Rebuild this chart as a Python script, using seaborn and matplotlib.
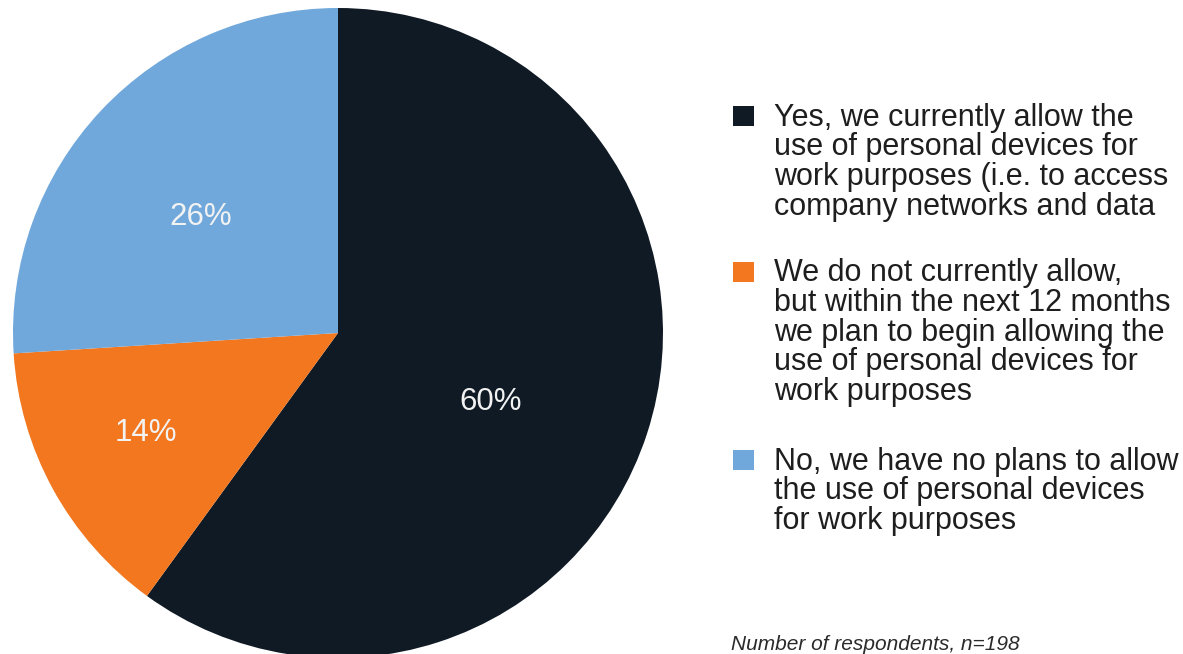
import numpy as np
import matplotlib
matplotlib.use("Agg")
import matplotlib.pyplot as plt
from matplotlib.patches import Rectangle
import seaborn as sns

# Survey answers on personal-device (BYOD) policy
answers = [
    "Yes, we currently allow the\nuse of personal devices for\nwork purposes (i.e. to access\ncompany networks and data",
    "We do not currently allow,\nbut within the next 12 months\nwe plan to begin allowing the\nuse of personal devices for\nwork purposes",
    "No, we have no plans to allow\nthe use of personal devices\nfor work purposes",
]
shares = [60, 14, 26]
colors = ["#101a25", "#f2771f", "#70a8db"]
footnote = "Number of respondents, n=198"

sns.set_theme(style="white")
plt.rcParams["font.family"] = ["Liberation Sans", "DejaVu Sans"]

W, H = 1183, 654
fig = plt.figure(figsize=(W / 100, H / 100), dpi=100)
fig.patch.set_facecolor("white")


def fx(x):
    return x / W


def fy(y):
    return 1 - y / H


# Pie axes: centre (338, 333) px, radius 325 px
cx, cy, r = 338, 333, 325
ax = fig.add_axes([fx(cx - r), fy(cy + r), 2 * r / W, 2 * r / H])
wedges, _, autotexts = ax.pie(
    shares,
    colors=colors,
    startangle=90,
    counterclock=False,
    autopct=lambda p: f"{p:.0f}%",
    pctdistance=0.55,
    wedgeprops=dict(linewidth=0),
    textprops=dict(color="#f2f2f2", fontsize=22.5),
)
ax.set_xlim(-1, 1)
ax.set_ylim(-1, 1)
ax.set_aspect("equal")
ax.axis("off")

# Placement of each percentage label: radial distance and angular nudge (deg)
label_dist = [0.51, 0.66, 0.56]
label_nudge = [-5.2, -2.2, 2.0]
for w, t, d, nd in zip(wedges, autotexts, label_dist, label_nudge):
    ang = np.deg2rad((w.theta1 + w.theta2) / 2 + nd)
    t.set_position((d * np.cos(ang), d * np.sin(ang)))
    t.set_va("center_baseline")

# Legend drawn as colour squares with wrapped descriptions
pitch = 29.5        # px between text lines
first_baselines = [126, 282, 470]
for label, col, base in zip(answers, colors, first_baselines):
    n_lines = label.count("\n") + 1
    last_base = base + (n_lines - 1) * pitch
    fig.text(fx(774), fy(last_base), label, ha="left", va="baseline",
             fontsize=22, color="#1e1e1e", linespacing=0.985)
    fig.patches.append(Rectangle((fx(733), fy(base)), 21 / W, 20 / H,
                                 transform=fig.transFigure, facecolor=col,
                                 edgecolor="none"))

fig.text(fx(731), fy(650), footnote, ha="left", va="baseline",
         fontsize=15, style="italic", color="#2a2a2a")

fig.savefig("out.png", dpi=100)
